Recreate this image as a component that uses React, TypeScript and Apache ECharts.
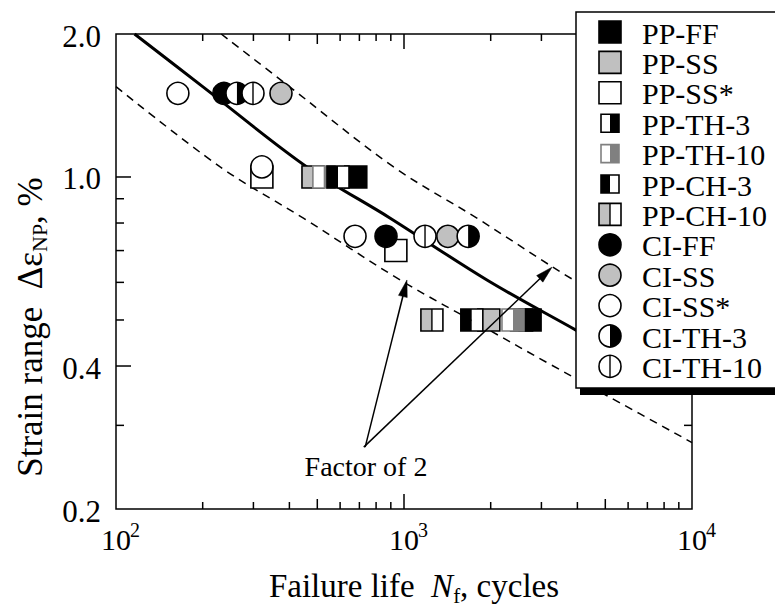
import React, { useEffect, useRef } from "react";
import * as echarts from "echarts";

const FONT = "'Liberation Serif', 'Times New Roman', Times, serif";

// ---- Data: [failure life N_f (cycles), strain range (%)] ----
const ppFF = [[680, 1.0], [2740, 0.5]];
const ppSS = [[483, 1.0], [1970, 0.5]];
const ppSSstar = [[321, 1.0], [937, 0.7]];
const ppTH3 = [[2560, 0.5]];
const ppTH10 = [[527, 1.0], [2390, 0.5]];
const ppCH3 = [[590, 1.0], [1720, 0.5]];
const ppCH10 = [[1250, 0.5]];
const ciFF = [[237, 1.5], [866, 0.75]];
const ciSS = [[374, 1.5], [1420, 0.75]];
const ciSSstar = [[164, 1.5], [321, 1.05], [676, 0.75]];
const ciTH3 = [[263, 1.5], [1670, 0.75]];
const ciTH10 = [[299, 1.5], [1183, 0.75]];

const seriesNames = [
  "PP-FF", "PP-SS", "PP-SS*", "PP-TH-3", "PP-TH-10", "PP-CH-3", "PP-CH-10",
  "CI-FF", "CI-SS", "CI-SS*", "CI-TH-3", "CI-TH-10",
];
const seriesData = [
  ppFF, ppSS, ppSSstar, ppTH3, ppTH10, ppCH3, ppCH10,
  ciFF, ciSS, ciSSstar, ciTH3, ciTH10,
];

// Best-fit curve and factor-of-2 band
const curveMean = [[116, 2.0], [200, 1.55], [460, 1.05], [893, 0.82], [1941, 0.607], [3954, 0.476], [6310, 0.406]];
const curveUpper = [[232, 2.0], [400, 1.55], [920, 1.05], [1786, 0.82], [3882, 0.607], [7908, 0.476], [10000, 0.44]];
const curveLower = [[100, 1.55], [230, 1.05], [446, 0.82], [970, 0.607], [1977, 0.476], [3155, 0.406], [5000, 0.348], [10000, 0.276]];

// Annotation arrows ("Factor of 2")
const arrowLines = [
  [725, 0.27, 3266, 0.646],
  [733, 0.27, 1024, 0.607],
];
const annotationText = "Factor of 2";

// Axes
const xMin = 100, xMax = 10000, yMin = 0.2, yMax = 2.0;
const xMinorTicks = [200, 300, 400, 600, 700, 800, 900, 2000, 3000, 4000, 6000, 7000, 8000, 9000];
const xMidTicks = [500, 5000];
const xMajorTicks = [1000];
const yMinorTicks = [0.3, 0.5, 0.6, 0.7, 0.8, 0.9];
const yMajorTicks = [0.4, 1.0];
const xTickLabels = [100, 1000, 10000];
const yTickLabels = [0.2, 0.4, 1.0, 2.0];
const xTitle = "Failure life  {it|N}{sub|f}, cycles";
const yTitle = "Strain range  Δε{sub|NP}, %";

const GREY = "#c0c0c0";
const DGREY = "#808080";

function markerEls(kind: string, cx: number, cy: number, s: number, z = 0): any[] {
  const h = s / 2;
  const lw = 1.6;
  const full = { x: cx - h, y: cy - h, width: s, height: s };
  const sq = (fill: string, stroke = "#000") => ({ type: "rect", z, shape: full, style: { fill, stroke, lineWidth: lw } });
  const halfL = (fill: string) => ({ type: "rect", z, shape: { x: cx - h, y: cy - h, width: h, height: s }, style: { fill, stroke: "none" } });
  const halfR = (fill: string) => ({ type: "rect", z, shape: { x: cx, y: cy - h, width: h, height: s }, style: { fill, stroke: "none" } });
  const outline = (stroke: string) => ({ type: "rect", z, shape: full, style: { fill: "none", stroke, lineWidth: lw } });
  const vline = (stroke: string) => ({ type: "line", z, shape: { x1: cx, y1: cy - h, x2: cx, y2: cy + h }, style: { stroke, lineWidth: 1.4 } });
  const circ = (fill: string) => ({ type: "circle", z, shape: { cx, cy, r: h }, style: { fill, stroke: "#000", lineWidth: lw } });
  switch (kind) {
    case "PP-FF": return [sq("#000")];
    case "PP-SS": return [sq(GREY)];
    case "PP-SS*": return [sq("#fff")];
    case "PP-TH-3": return [halfL("#fff"), halfR("#000"), outline("#000")];
    case "PP-TH-10": return [halfL("#fff"), halfR(DGREY), outline(DGREY)];
    case "PP-CH-3": return [halfL("#000"), halfR("#fff"), outline("#000")];
    case "PP-CH-10": return [halfL(GREY), halfR("#fff"), vline("#000"), outline("#000")];
    case "CI-FF": return [circ("#000")];
    case "CI-SS": return [circ(GREY)];
    case "CI-SS*": return [circ("#fff")];
    case "CI-TH-3": return [
      { type: "circle", z, shape: { cx, cy, r: h }, style: { fill: "#fff", stroke: "none" } },
      { type: "sector", z, shape: { cx, cy, r: h, r0: 0, startAngle: -Math.PI / 2, endAngle: Math.PI / 2, clockwise: true }, style: { fill: "#000", stroke: "none" } },
      { type: "circle", z, shape: { cx, cy, r: h }, style: { fill: "none", stroke: "#000", lineWidth: lw } },
    ];
    case "CI-TH-10": return [circ("#fff"), vline("#000")];
  }
  return [];
}

function buildOption(): any {
  const series: any[] = [];

  // curves
  const lineBase = { type: "line", showSymbol: false, symbol: "none", silent: true, smooth: 0.35, z: 2, clip: true };
  series.push({ ...lineBase, name: "mean", data: curveMean, lineStyle: { color: "#000", width: 3 } });
  series.push({ ...lineBase, name: "upper", data: curveUpper, lineStyle: { color: "#000", width: 1.5, type: [8, 6] } });
  series.push({ ...lineBase, name: "lower", data: curveLower, lineStyle: { color: "#000", width: 1.5, type: [8, 6] } });

  // markers
  seriesNames.forEach((name, i) => {
    series.push({
      type: "custom",
      name,
      z: 3,
      silent: true,
      clip: false,
      data: seriesData[i],
      renderItem: (params: any, api: any) => {
        const p = api.coord([api.value(0), api.value(1)]);
        return { type: "group", children: markerEls(name, p[0], p[1], 22) };
      },
    });
  });

  // arrows
  series.push({
    type: "custom",
    name: "arrows",
    z: 4,
    silent: true,
    clip: false,
    data: arrowLines,
    renderItem: (params: any, api: any) => {
      const p0 = api.coord([api.value(0), api.value(1)]);
      const p1 = api.coord([api.value(2), api.value(3)]);
      const dx = p1[0] - p0[0], dy = p1[1] - p0[1];
      const len = Math.sqrt(dx * dx + dy * dy);
      const ux = dx / len, uy = dy / len;
      const nx = -uy, ny = ux;
      const L = 17, W = 4.5;
      const bx = p1[0] - ux * L, by = p1[1] - uy * L;
      return {
        type: "group",
        children: [
          { type: "line", shape: { x1: p0[0], y1: p0[1], x2: bx + ux * 3, y2: by + uy * 3 }, style: { stroke: "#000", lineWidth: 1.5 } },
          { type: "polygon", shape: { points: [[p1[0], p1[1]], [bx + nx * W, by + ny * W], [bx - nx * W, by - ny * W]] }, style: { fill: "#000", stroke: "#000", lineWidth: 0.5 } },
        ],
      };
    },
  });

  // ticks (drawn inside the frame, on all four sides)
  const xTicks = [
    ...xMinorTicks.map((v) => [v, 1.0, 7]),
    ...xMidTicks.map((v) => [v, 1.0, 10]),
    ...xMajorTicks.map((v) => [v, 1.0, 15]),
  ];
  series.push({
    type: "custom", name: "xticks", z: 1, silent: true, clip: false, data: xTicks,
    renderItem: (params: any, api: any) => {
      const v = api.value(0), l = api.value(2);
      const pb = api.coord([v, yMin]);
      const pt = api.coord([v, yMax]);
      return {
        type: "group", children: [
          { type: "line", shape: { x1: pb[0], y1: pb[1], x2: pb[0], y2: pb[1] - l }, style: { stroke: "#000", lineWidth: 1.5 } },
          { type: "line", shape: { x1: pt[0], y1: pt[1], x2: pt[0], y2: pt[1] + l }, style: { stroke: "#000", lineWidth: 1.5 } },
        ],
      };
    },
  });
  const yTicks = [
    ...yMinorTicks.map((v) => [1000, v, 8]),
    ...yMajorTicks.map((v) => [1000, v, 15]),
  ];
  series.push({
    type: "custom", name: "yticks", z: 1, silent: true, clip: false, data: yTicks,
    renderItem: (params: any, api: any) => {
      const v = api.value(1), l = api.value(2);
      const pl = api.coord([xMin, v]);
      const pr = api.coord([xMax, v]);
      return {
        type: "group", children: [
          { type: "line", shape: { x1: pl[0], y1: pl[1], x2: pl[0] + l, y2: pl[1] }, style: { stroke: "#000", lineWidth: 1.5 } },
          { type: "line", shape: { x1: pr[0], y1: pr[1], x2: pr[0] - l, y2: pr[1] }, style: { stroke: "#000", lineWidth: 1.5 } },
        ],
      };
    },
  });

  // tick labels
  series.push({
    type: "custom", name: "xlabels", z: 1, silent: true, clip: false,
    data: xTickLabels.map((v) => [v, 1.0]),
    renderItem: (params: any, api: any) => {
      const v = api.value(0);
      const p = api.coord([v, yMin]);
      const exp = String(Math.round(Math.log10(v)));
      return {
        type: "group", children: [
          { type: "text", x: p[0], y: p[1] + 30, style: { text: "10", fontSize: 30, fontFamily: FONT, fill: "#000", align: "center", verticalAlign: "middle" } },
          { type: "text", x: p[0] + 14, y: p[1] + 21, style: { text: exp, fontSize: 20, fontFamily: FONT, fill: "#000", align: "left", verticalAlign: "middle" } },
        ],
      };
    },
  });
  series.push({
    type: "custom", name: "ylabels", z: 1, silent: true, clip: false,
    data: yTickLabels.map((v) => [1000, v]),
    renderItem: (params: any, api: any) => {
      const v = api.value(1);
      const p = api.coord([xMin, v]);
      return { type: "text", x: p[0] - 15, y: p[1] + 2, style: { text: v.toFixed(1), fontSize: 31, fontFamily: FONT, fill: "#000", align: "right", verticalAlign: "middle" } };
    },
  });

  // legend (drawn as graphic)
  const legendChildren: any[] = [
    { type: "rect", z: 100, shape: { x: 580, y: 16, width: 220, height: 379 }, style: { fill: "#000" } },
    { type: "rect", z: 101, shape: { x: 576, y: 12, width: 220, height: 376 }, style: { fill: "#fff", stroke: "#000", lineWidth: 1.5 } },
  ];
  seriesNames.forEach((name, i) => {
    const y = 32 + i * 30.4;
    const small = name === "PP-TH-3" || name === "PP-TH-10" || name === "PP-CH-3";
    legendChildren.push(...markerEls(name, 610, y, small ? 18 : 22, 102));
    legendChildren.push({ type: "text", z: 102, x: 642, y: y + 1, style: { text: name, fontSize: 30, fontFamily: FONT, fill: "#000", align: "left", verticalAlign: "middle" } });
  });

  return {
    animation: false,
    backgroundColor: "#fff",
    grid: { left: 116, top: 34, right: 83, bottom: 99, show: true, borderColor: "#000", borderWidth: 1.5, backgroundColor: "transparent" },
    xAxis: {
      type: "log", logBase: 10, min: xMin, max: xMax,
      axisLine: { show: false }, axisTick: { show: false }, axisLabel: { show: false }, splitLine: { show: false },
    },
    yAxis: {
      type: "log", logBase: 10, min: yMin, max: yMax,
      axisLine: { show: false }, axisTick: { show: false }, axisLabel: { show: false }, splitLine: { show: false },
    },
    graphic: [
      {
        type: "text", x: 414, y: 586, z: 50,
        style: {
          text: xTitle,
          fontSize: 33, fontFamily: FONT, fill: "#000", align: "center", verticalAlign: "middle", lineHeight: 40,
          rich: {
            it: { fontFamily: FONT, fontSize: 33, fontStyle: "italic", fill: "#000", lineHeight: 40 },
            sub: { fontFamily: FONT, fontSize: 21, fill: "#000", lineHeight: 21, verticalAlign: "bottom" },
          },
        },
      },
      {
        type: "text", x: 30, y: 327, rotation: Math.PI / 2, z: 50,
        style: {
          text: yTitle,
          fontSize: 35, fontFamily: FONT, fill: "#000", align: "center", verticalAlign: "middle", lineHeight: 41,
          rich: {
            sub: { fontFamily: FONT, fontSize: 22, fill: "#000", lineHeight: 22, verticalAlign: "bottom" },
          },
        },
      },
      {
        type: "text", x: 366, y: 466, z: 50,
        style: { text: annotationText, fontSize: 28, fontFamily: FONT, fill: "#000", align: "center", verticalAlign: "middle" },
      },
      { type: "group", z: 100, children: legendChildren },
    ],
    series,
  };
}

export default function App() {
  const ref = useRef<HTMLDivElement>(null);
  useEffect(() => {
    const chart = echarts.init(ref.current!, null, { renderer: "svg" });
    chart.setOption(buildOption());
    return () => chart.dispose();
  }, []);
  return (
    <div
      ref={ref}
      style={{ position: "fixed", left: 0, top: 0, width: 775, height: 608, background: "#fff" }}
    />
  );
}
